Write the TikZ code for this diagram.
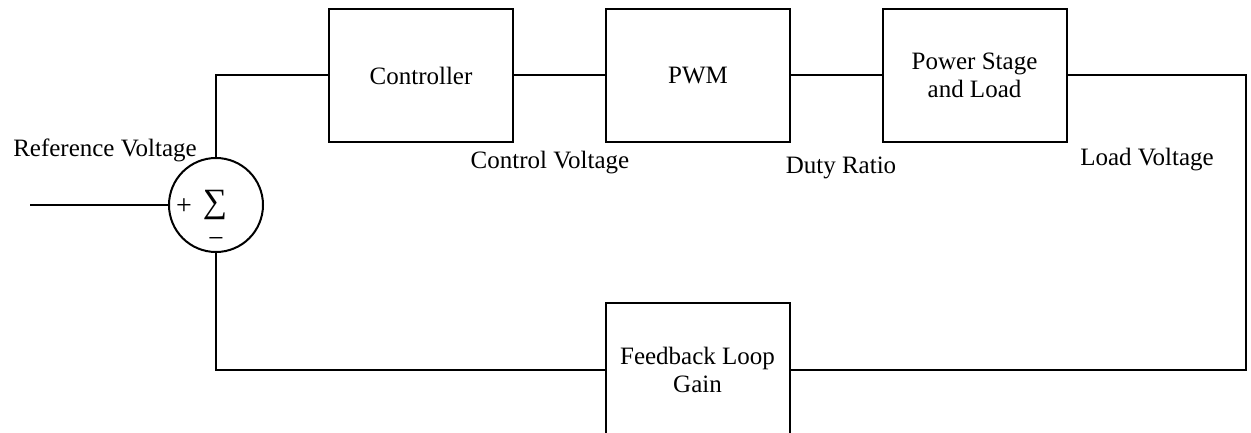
\documentclass[tikz,border=0pt]{standalone}
\usepackage{fontspec}
\setmainfont{Liberation Serif}
\usepackage{tikz}
\usetikzlibrary{positioning}
\tikzset{
  wire/.style={draw=black, line width=1pt},
  blk/.style={draw=black, line width=1pt, minimum width=92pt, minimum height=66.5pt,
    align=center, inner sep=0pt, font=\fontsize{12.5}{14}\selectfont},
  sum/.style={draw=black, line width=1pt, circle, minimum size=47pt, inner sep=0pt},
  lab/.style={font=\fontsize{12.5}{14}\selectfont, inner sep=0pt},
  sgn/.style={font=\fontsize{14}{14}\selectfont, inner sep=0pt},
}

\begin{document}
\begin{tikzpicture}[x=0.5pt, y=-0.5pt]
  \clip (0,0) rectangle (1251,433);
  % forward path
  \node[sum] (sum) at (216,205) {};
  \node[blk] (ctrl) at (421,75.5) {Controller};
  \node[blk] (pwm) at (698,75.5) {PWM};
  \node[blk] (pse) at (974.5,75.5) {Power Stage\\and Load};
  % feedback path
  \node[blk] (fb) at (697.5,369.5) {Feedback Loop\\Gain};
  \coordinate (in) at (30,205);
  % signs inside the summing junction
  \node[sgn] (plus) at (184,207) {+};
  \node[sgn, font=\fontsize{17}{17}\selectfont] (sig) at (215,205) {∑};
  \node[sgn] (minus) at (216,242) {−};
  % signal names
  \node[lab] (vref) at (105,150) {Reference Voltage};
  \node[lab] (vc) at (550,163) {Control Voltage};
  \node[lab] (d) at (841,168) {Duty Ratio};
  \node[lab] (vo) at (1147,160) {Load Voltage};
  % connections
  \draw[wire] (in) -- (sum.west);
  \draw[wire] (sum.north) |- (ctrl.west);
  \draw[wire] (ctrl) -- (pwm);
  \draw[wire] (pwm) -- (pse);
  \draw[wire] (pse.east) -- ++(178,0) |- (fb.east);
  \draw[wire] (fb.west) -| (sum.south);
\end{tikzpicture}
\end{document}
